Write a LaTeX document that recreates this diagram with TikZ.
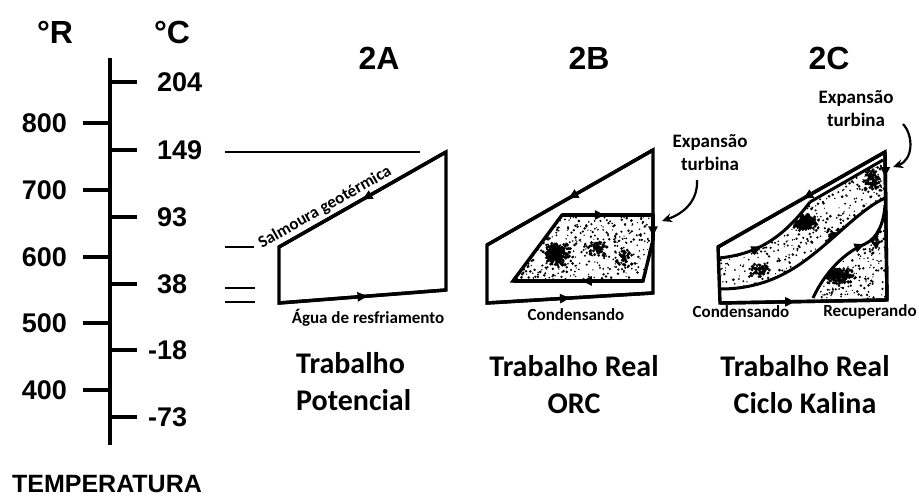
\documentclass[tikz,border=0pt]{standalone}
\usepackage{fontspec}
\setmainfont{Liberation Sans}
\newfontfamily\calfont{Carlito}
\usetikzlibrary{arrows.meta,decorations.markings}
\newcommand\stip[5]{\foreach \i in {1,...,#5}{\pgfmathsetmacro\stX{#1+#3*rnd}\pgfmathsetmacro\stY{#2+#4*rnd}\pgfmathsetmacro\stR{0.6+0.9*rnd}\fill (\stX,\stY) circle[radius=\stR pt];}}
\newcommand\blobby[5]{\foreach \i in {1,...,#5}{\pgfmathsetmacro\stX{#1+#3*(rnd-rnd)}\pgfmathsetmacro\stY{#2+#4*(rnd-rnd)}\fill (\stX,\stY) circle[radius=1.6pt];}}
\tikzset{
  axline/.style={line width=4.5pt},
  frame/.style={line width=3.4pt, line join=miter},
  thinline/.style={line width=2.8pt},
  crv/.style={line width=3pt},
  tri/.style={postaction={decorate, decoration={markings, mark=at position #1 with {\arrow{Triangle[length=10pt,width=9pt]}}}}},
  big/.style={font=\bfseries\fontsize{32}{36}\selectfont, inner sep=0pt},
  num/.style={font=\bfseries\fontsize{27}{30}\selectfont, inner sep=0pt},
  small/.style={font=\calfont\bfseries\fontsize{17}{20}\selectfont, inner sep=0pt},
  ttl/.style={font=\calfont\bfseries\fontsize{30}{37}\selectfont, inner sep=0pt},
  expo/.style={font=\calfont\bfseries\fontsize{19}{23}\selectfont, inner sep=0pt, align=center},
  hook/.style={line width=2.2pt, -{Stealth[length=10pt,width=9pt]}},
}
\begin{document}
\begin{tikzpicture}[x=1pt,y=-1pt]
\useasboundingbox (0,0) rectangle (919,499);
\pgfmathsetseed{7}
% ---------------- temperature axis
\draw[axline] (110,58) -- (110,445);
\foreach \yy in {123,190,257,323,390} \draw[axline] (83,\yy) -- (110,\yy);
\foreach \yy in {82,150,217,284,350,417} \draw[axline] (110,\yy) -- (137,\yy);
\node[big] (degR) at (55,32) {°R};
\node[big] (degC) at (172,32) {°C};
\node[num,anchor=east] (r800) at (67,123) {800};
\node[num,anchor=east] (r700) at (67,190) {700};
\node[num,anchor=east] (r600) at (67,257) {600};
\node[num,anchor=east] (r500) at (67,323) {500};
\node[num,anchor=east] (r400) at (67,390) {400};
\node[num,anchor=west] (c204) at (157,82) {204};
\node[num,anchor=west] (c149) at (157,150) {149};
\node[num,anchor=west] (c93) at (157,217) {93};
\node[num,anchor=west] (c38) at (157,284) {38};
\node[num,anchor=west] (cm18) at (148,350) {-18};
\node[num,anchor=west] (cm73) at (148,417) {-73};
\node[font=\bfseries\fontsize{25}{28}\selectfont, inner sep=0pt] (temp) at (107,484) {TEMPERATURA};
% ---------------- titles
\node[big] (tA) at (379,58) {2A};
\node[big] (tB) at (589,58) {2B};
\node[big] (tC) at (829,58) {2C};
% ---------------- 2A
\coordinate (a1) at (279,247); \coordinate (a2) at (446,152);
\coordinate (a3) at (446,290); \coordinate (a4) at (279,303);
\draw[thinline] (225,152) -- (420,152);
\draw[thinline] (225,247) -- (254,247);
\draw[thinline] (225,288) -- (255,288);
\draw[thinline] (225,302) -- (255,302);
\draw[frame] (a1) -- (a2) -- (a3) -- (a4) -- cycle;
\draw[frame,tri=0.5] (a2) -- (a1);
\draw[frame,tri=0.53] (a4) -- (a3);
\path (a1) -- (a2) node[pos=0.31, sloped, above=4pt, small, font=\calfont\bfseries\fontsize{17}{20}\selectfont] (salm) {Salmoura geotérmica};
\node[small] (agua) at (368,318) {Água de resfriamento};
\node[ttl, anchor=north west, align=left] (potA) at (296,352) {Trabalho\\Potencial};
% ---------------- 2B
\coordinate (b1) at (487,245); \coordinate (b2) at (653,150);
\coordinate (b3) at (653,293); \coordinate (b4) at (487,303);
\coordinate (c1) at (562,215); \coordinate (c2) at (653,215);
\coordinate (c3) at (653,240); \coordinate (c4) at (643,281);
\coordinate (c5) at (513,281);
\begin{scope}
  \clip (c1) -- (c2) -- (c3) -- (c4) -- (c5) -- cycle;
  \stip{510}{213}{146}{70}{480}
  \blobby{557}{254}{15}{12}{220}
  \blobby{598}{248}{10}{9}{60}
  \blobby{625}{258}{9}{9}{40}
\end{scope}
\draw[frame] (b1) -- (b2) -- (b3) -- (b4) -- cycle;
\draw[frame] (c1) -- (c2) -- (c3) -- (c4) -- (c5) -- cycle;
\draw[frame,tri=0.51] (b2) -- (b1);
\draw[frame,tri=0.5] (b4) -- (b3);
\draw[frame,tri=0.47] (c1) -- (c2);
\draw[frame,tri=0.47] (c4) -- (c5);
\draw[frame,tri=0.85] (c2) -- (c3);
\node[expo, anchor=north] (expB) at (710,134) {Expansão\\turbina};
\coordinate (hkB) at (697,180);
\coordinate (tipB) at (662,221);
\draw[hook] (hkB) .. controls (698,200) and (685,213) .. (tipB);
\node[small] (condB) at (576,315) {Condensando};
\node[ttl, align=center, anchor=north] (orc) at (574,355) {Trabalho Real\\ORC};
% ---------------- 2C
\coordinate (d1) at (718,247); \coordinate (d2) at (885,152);
\coordinate (d3) at (887,300); \coordinate (d4) at (720,303);
\coordinate (e1) at (810,202); \coordinate (e2) at (883,160);
\begin{scope}
  \clip (719,258) .. controls (760,254) and (785,235) .. (e1) -- (e2) -- (885,198)
     .. controls (870,205) and (855,218) .. (835,236)
     .. controls (805,262) and (775,289) .. (720,289) -- cycle;
  \stip{715}{155}{175}{140}{900}
  \blobby{806}{222}{14}{9}{170}
  \blobby{872}{180}{9}{12}{80}
  \blobby{760}{270}{11}{7}{50}
  \blobby{835}{235}{10}{8}{50}
\end{scope}
\begin{scope}
  \clip (813,298) .. controls (825,272) and (845,252) .. (865,244)
     .. controls (878,238) and (884,222) .. (885,205) -- (887,300) -- cycle;
  \stip{810}{200}{80}{102}{330}
  \blobby{840}{276}{16}{8}{170}
  \blobby{875}{240}{8}{10}{40}
\end{scope}
\draw[frame] (d1) -- (d2) -- (d3) -- (d4) -- cycle;
\draw[frame,tri=0.49] (d2) -- (d1);
\draw[frame,tri=0.45] (d4) -- (d3);
\draw[frame,tri=0.17] (d2) -- (d3);
\draw[crv] (e1) -- (e2);
\draw[crv,tri=0.4] (719,258) .. controls (760,254) and (785,235) .. (e1);
\draw[crv] (720,289) .. controls (775,289) and (805,262) .. (835,236)
     .. controls (855,218) and (870,205) .. (885,198);
\draw[crv,tri=0.62] (813,298) .. controls (825,272) and (845,252) .. (865,244)
     .. controls (878,238) and (884,222) .. (885,205);
\node[expo, anchor=north] (expC) at (856,90) {Expansão\\turbina};
\coordinate (hkC) at (903,124);
\coordinate (tipC) at (893,167);
\draw[hook] (hkC) .. controls (914,136) and (913,160) .. (tipC);
\node[small] (condC) at (741,312) {Condensando};
\node[small] (recC) at (870,312) {Recuperando};
\node[ttl, align=center, anchor=north] (kal) at (805,355) {Trabalho Real\\Ciclo Kalina};
\end{tikzpicture}
\end{document}
